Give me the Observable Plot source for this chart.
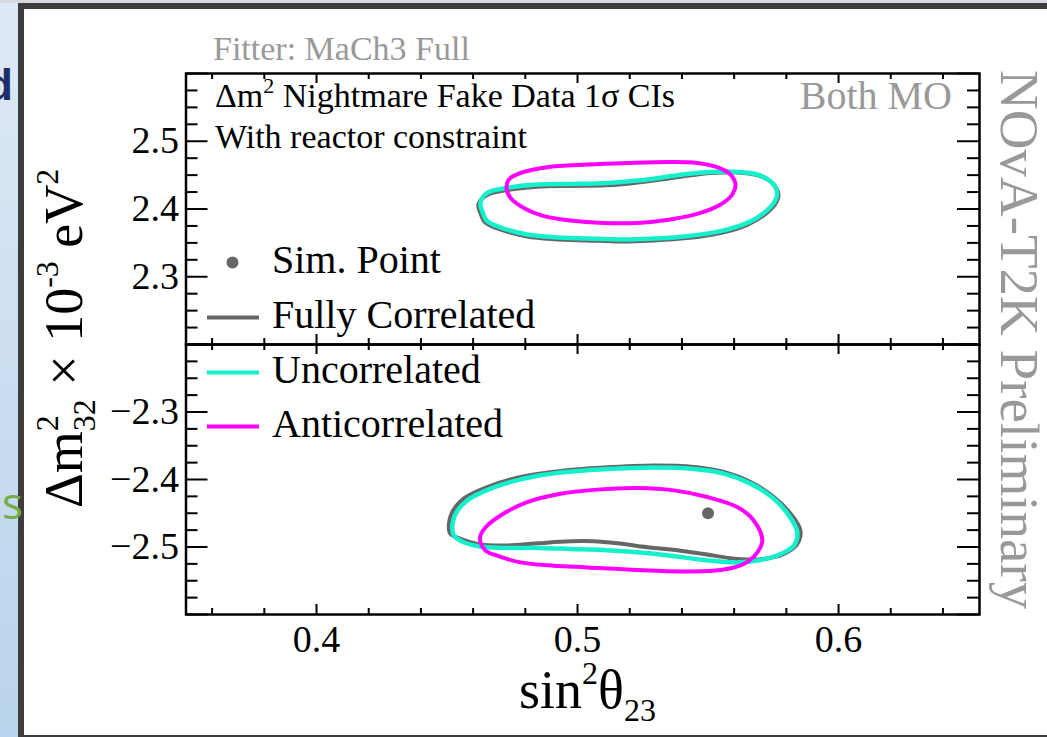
<!DOCTYPE html>
<html><head><meta charset="utf-8">
<script src="https://cdn.jsdelivr.net/npm/d3@7"></script>
<script src="https://cdn.jsdelivr.net/npm/@observablehq/plot@0.6"></script>
<style>
html,body{margin:0;padding:0;background:#fff;}
#wrap{position:relative;width:1047px;height:737px;overflow:hidden;background:#fff;}
#wrap svg{position:absolute;left:0;top:0;}
.deco{position:absolute;}
</style></head><body><div id="wrap">
<div class="deco" style="left:0;top:0;width:18px;height:737px;background:linear-gradient(#dfe9f5,#b9d3ec);"></div>
<div class="deco" style="left:0;top:0;width:1047px;height:3px;background:#d6d9de;"></div>
<div class="deco" style="left:18px;top:3px;width:1029px;height:6px;background:#3d3d3d;"></div>
<div class="deco" style="left:18px;top:3px;width:6px;height:734px;background:#3d3d3d;"></div>
<div class="deco" style="left:18px;top:735px;width:1029px;height:2px;background:#3d3d3d;"></div>
<div class="deco" style="left:-14px;top:60px;font:bold 44px 'Liberation Sans',sans-serif;color:#1b2f6b;">d</div>
<div class="deco" style="left:2px;top:472px;font:44px 'Open Sans',sans-serif;color:#6fae45;">s</div>
</div>
<script>
// ---------------- data ----------------
const seriesNames = ["Fully Correlated", "Uncorrelated", "Anticorrelated"];
const seriesColors = ["#666666", "#14f0cc", "#ff00ff"];
const simPointLabel = "Sim. Point";
const simPoint = [{x: 0.55, y: -2.45}];

const xTicks = [0.4, 0.5, 0.6];
const yTicksTop = [2.3, 2.4, 2.5];
const yTicksBottom = [-2.5, -2.4, -2.3];

// upper panel (normal ordering), [sin2theta23, dm2_32 x 1e-3]
const topFully = [[0.4620,2.406],[0.4650,2.420],[0.4731,2.428],[0.4846,2.433],[0.4973,2.434],[0.5114,2.435],[0.5229,2.439],[0.5331,2.444],[0.5420,2.449],[0.5510,2.453],[0.5612,2.454],[0.5688,2.450],[0.5742,2.440],[0.5770,2.422],[0.5757,2.407],[0.5718,2.392],[0.5652,2.377],[0.5548,2.3645],[0.5420,2.357],[0.5292,2.3535],[0.5165,2.352],[0.5037,2.3535],[0.4909,2.3555],[0.4807,2.3595],[0.4715,2.3685],[0.4648,2.3795],[0.4627,2.395]];
const topUncorr = [[0.4628,2.409],[0.4654,2.4237],[0.4731,2.4311],[0.4846,2.4361],[0.4973,2.4370],[0.5114,2.4385],[0.5229,2.4420],[0.5331,2.4469],[0.5420,2.4518],[0.5510,2.4547],[0.5612,2.4547],[0.5688,2.4509],[0.5739,2.4410],[0.5765,2.4237],[0.5752,2.4090],[0.5714,2.3942],[0.5650,2.3795],[0.5548,2.3673],[0.5420,2.3599],[0.5292,2.3565],[0.5165,2.3550],[0.5037,2.3565],[0.4909,2.3584],[0.4807,2.3624],[0.4718,2.3712],[0.4654,2.3820],[0.4635,2.3968]];
const topAnti = [[0.4728,2.4311],[0.4737,2.4435],[0.4782,2.4532],[0.4884,2.4617],[0.5037,2.4656],[0.5190,2.4680],[0.5356,2.4695],[0.5459,2.4680],[0.5535,2.4617],[0.5586,2.4509],[0.5605,2.4361],[0.5593,2.4214],[0.5548,2.4066],[0.5471,2.3942],[0.5356,2.3845],[0.5229,2.3795],[0.5100,2.3795],[0.4973,2.3830],[0.4871,2.3894],[0.4794,2.4016],[0.4743,2.4164]];

// lower panel (inverted ordering)
const botFully = [[0.4507,-2.4707],[0.4520,-2.4484],[0.4564,-2.4284],[0.4654,-2.4112],[0.4782,-2.3963],[0.4935,-2.3873],[0.5101,-2.3823],[0.5292,-2.3793],[0.5446,-2.3814],[0.5561,-2.3888],[0.5663,-2.4037],[0.5752,-2.4260],[0.5816,-2.4507],[0.5854,-2.4756],[0.5842,-2.4954],[0.5790,-2.5103],[0.5714,-2.5177],[0.5612,-2.5177],[0.5522,-2.5128],[0.5395,-2.5054],[0.5267,-2.5004],[0.5152,-2.4945],[0.5062,-2.4915],[0.4973,-2.4915],[0.4846,-2.4945],[0.4718,-2.4979],[0.4616,-2.4954],[0.4552,-2.4879],[0.4513,-2.4805]];
const botUncorr = [[0.4520,-2.4731],[0.4533,-2.4507],[0.4577,-2.4310],[0.4667,-2.4135],[0.4794,-2.3987],[0.4935,-2.3897],[0.5101,-2.3848],[0.5292,-2.3823],[0.5446,-2.3844],[0.5561,-2.3912],[0.5663,-2.4061],[0.5752,-2.4284],[0.5810,-2.4533],[0.5842,-2.4781],[0.5829,-2.4979],[0.5778,-2.5103],[0.5701,-2.5192],[0.5612,-2.5228],[0.5484,-2.5192],[0.5356,-2.5128],[0.5229,-2.5079],[0.5101,-2.5043],[0.4973,-2.5028],[0.4846,-2.5013],[0.4718,-2.5013],[0.4628,-2.4994],[0.4564,-2.4930],[0.4526,-2.4830]];
const botAnti = [[0.4628,-2.4830],[0.4648,-2.4707],[0.4705,-2.4533],[0.4807,-2.4335],[0.4935,-2.4210],[0.5075,-2.4150],[0.5229,-2.4127],[0.5369,-2.4161],[0.5497,-2.4260],[0.5612,-2.4409],[0.5675,-2.4607],[0.5708,-2.4905],[0.5689,-2.5079],[0.5637,-2.5251],[0.5548,-2.5341],[0.5420,-2.5362],[0.5229,-2.5341],[0.5037,-2.5302],[0.4909,-2.5277],[0.4782,-2.5228],[0.4692,-2.5128],[0.4648,-2.5054],[0.4628,-2.4930]];

// ---------------- layout ----------------
const W = 1047, H = 737;
const FONT = "Liberation Serif, Times New Roman, serif";
const xDomain = [0.35, 0.654];
const mL = 185.5, mR = 68;
const panelW = W - mL - mR;
const xMinor = d3.range(36, 66, 2).filter(v => v % 10 !== 0).map(v => v / 100);
const fmt = d => (d < 0 ? "\u2212" : "") + Math.abs(d).toFixed(1);

function toRows(arr) { return arr.map(([x, y]) => ({x, y})); }

function panel({yDomain, marginTop, marginBottom, curves, yLabels, showX, extra = []}) {
  const ph = H - marginTop - marginBottom;
  const yMaj = d3.range(0, 5).map(i => +(yDomain[0] + i * 0.1).toFixed(3));
  const yMin = d3.range(0, 17).map(i => +(yDomain[0] + i * 0.025).toFixed(4)).filter(v => !yMaj.some(m => Math.abs(m - v) < 1e-6));
  const tk = {stroke: "#000", strokeWidth: 2};
  return Plot.plot({
    width: W, height: H, marginLeft: mL, marginRight: mR, marginTop, marginBottom,
    style: {background: "none", fontFamily: FONT, fontSize: "38px", color: "#000", overflow: "visible"},
    x: {domain: xDomain, axis: null},
    y: {domain: yDomain, axis: null},
    marks: [
      ...curves.map((c, i) => Plot.line(toRows(c), {x: "x", y: "y", stroke: seriesColors[i], strokeWidth: i === 1 ? 4.5 : 4, curve: "catmull-rom-closed"})),
      ...extra,
      Plot.tickY(yMaj, {y: d => d, insetRight: panelW - 22, ...tk}),
      Plot.tickY(yMin, {y: d => d, insetRight: panelW - 12, ...tk}),
      Plot.tickY(yMaj, {y: d => d, insetLeft: panelW - 22, ...tk}),
      Plot.tickY(yMin, {y: d => d, insetLeft: panelW - 12, ...tk}),
      Plot.tickX(xTicks, {x: d => d, insetBottom: ph - 10, ...tk}),
      Plot.tickX(xMinor, {x: d => d, insetBottom: ph - 6, ...tk}),
      Plot.tickX(xTicks, {x: d => d, insetTop: ph - 10, ...tk}),
      Plot.tickX(xMinor, {x: d => d, insetTop: ph - 6, ...tk}),
      Plot.axisY(yLabels, {anchor: "left", tickSize: 0, tickPadding: 7, tickFormat: fmt, label: null, fill: "#000"}),
      ...(showX ? [Plot.axisX(xTicks, {anchor: "bottom", tickSize: 0, tickPadding: 11, tickFormat: d => d.toFixed(1), label: null, fill: "#000"})] : []),
      Plot.frame({stroke: "#000", strokeWidth: 2.5})
    ]
  });
}

const wrap = document.getElementById("wrap");
wrap.appendChild(panel({yDomain: [2.2, 2.6], marginTop: 73, marginBottom: H - 344, curves: [topFully, topUncorr, topAnti], yLabels: yTicksTop, showX: false}));
wrap.appendChild(panel({yDomain: [-2.6, -2.2], marginTop: 344, marginBottom: H - 614, curves: [botFully, botUncorr, botAnti], yLabels: yTicksBottom, showX: true,
  extra: [Plot.dot(simPoint, {x: "x", y: "y", r: 6, fill: "#666666", stroke: "none"})]}));

// ---------------- annotations, legend, axis titles ----------------
const ov = d3.select(wrap).append("svg").attr("width", W).attr("height", H)
  .attr("font-family", FONT).style("white-space", "pre");

function rich(x, y, size, parts, {fill = "#000", anchor = "start", rotate = 0} = {}) {
  const t = ov.append("text").attr("font-size", size).attr("fill", fill).attr("text-anchor", anchor)
    .attr("transform", `translate(${x},${y}) rotate(${rotate})`);
  for (const p of parts) {
    const s = t.append("tspan").text(p.t);
    if (p.dx) s.attr("dx", p.dx);
    if (p.dy) s.attr("dy", p.dy);
    if (p.size) s.attr("font-size", p.size);
  }
  return t;
}

rich(213, 60, 34, [{t: "Fitter: MaCh3 Full"}], {fill: "#999999"});
rich(215, 107, 34, [{t: "\u0394m"}, {t: "2", size: 22, dy: -14}, {t: " Nightmare Fake Data 1\u03c3 CIs", dy: 14}]);
rich(215, 148, 34, [{t: "With reactor constraint"}]);
rich(952, 109, 40, [{t: "Both MO"}], {fill: "#999999", anchor: "end"});
rich(1001, 70, 55, [{t: "NOvA-T2K Preliminary"}], {fill: "#999999", rotate: 90});

// y-axis title
rich(82, 508, 54, [
  {t: "\u0394m"}, {t: "2", size: 32, dy: -24}, {t: "32", size: 32, dx: -16, dy: 37},
  {t: " \u00d7 10", dy: -13}, {t: "-3", size: 32, dy: -24}, {t: " eV", dy: 24}, {t: "2", size: 32, dy: -24}
], {rotate: -90});
// x-axis title
rich(519, 708, 54, [{t: "sin"}, {t: "2", size: 32, dy: -24}, {t: "\u03b8", dy: 24}, {t: "23", size: 32, dy: 13}]);

// legend
const legendBase = [273, 328, 383, 437];
ov.append("circle").attr("cx", 232.5).attr("cy", 262.5).attr("r", 6).attr("fill", "#666666");
rich(272, legendBase[0], 40, [{t: simPointLabel}]);
seriesNames.forEach((name, i) => {
  const yb = legendBase[i + 1];
  ov.append("line").attr("x1", 207).attr("x2", 259).attr("y1", yb - 10.5).attr("y2", yb - 10.5)
    .attr("stroke", seriesColors[i]).attr("stroke-width", 4);
  rich(272, yb, 40, [{t: name}]);
});
</script></body></html>
